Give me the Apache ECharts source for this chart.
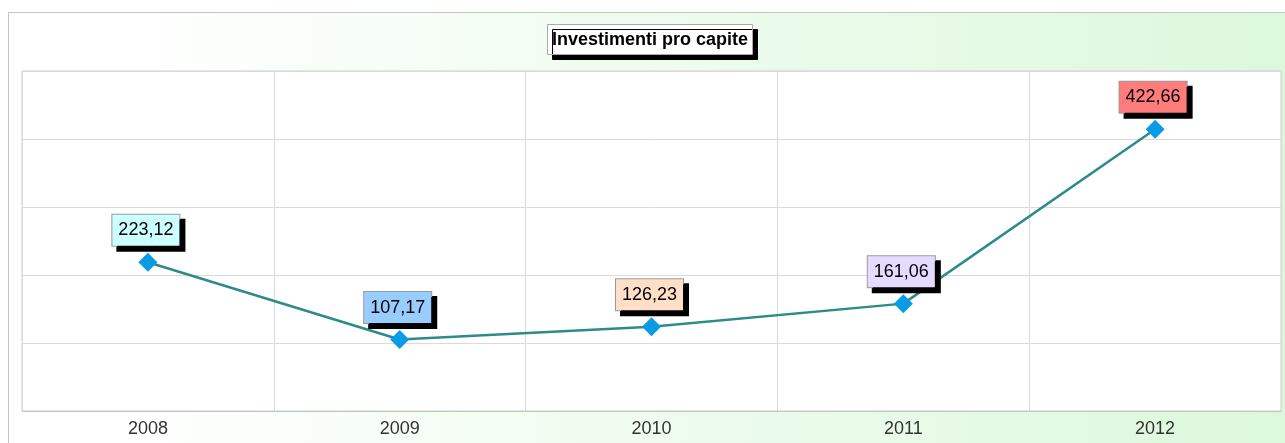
<!DOCTYPE html>
<html>
<head>
<meta charset="utf-8">
<script src="https://cdn.jsdelivr.net/npm/echarts@6/dist/echarts.min.js"></script>
<style>
  html, body { margin: 0; padding: 0; background: #fff; }
  #chart { width: 1285px; height: 443px; }
</style>
</head>
<body>
<div id="chart"></div>
<script>
// dati
var anni = ['2008', '2009', '2010', '2011', '2012'];
var investimenti = [223.12, 107.17, 126.23, 161.06, 422.66];
var coloriEtichette = ['#ccffff', '#99ccff', '#ffdfc8', '#e4dcff', '#ff7c7c'];
var titolo = 'Investimenti pro capite';

var chart = echarts.init(document.getElementById('chart'));

var punti = investimenti.map(function(v, i) {
	return { value: v, label: { backgroundColor: coloriEtichette[i] } };
});

var option = {
	backgroundColor: '#ffffff',
	animation: false,
	graphic: [{
		type: 'rect',
		z: -10,
		shape: { x: 8.5, y: 12.5, width: 1300, height: 460 },
		style: {
			fill: new echarts.graphic.LinearGradient(0, 0, 1, 0, [
				{ offset: 0, color: '#ffffff' },
				{ offset: 0.08, color: '#ffffff' },
				{ offset: 1, color: '#dbf8db' }
			]),
			stroke: '#c4c4c4',
			lineWidth: 1
		}
	}],
	title: {
		text: titolo,
		left: 547,
		top: 24,
		padding: [6, 5, 5, 5],
		backgroundColor: '#ffffff',
		borderColor: '#aaaaaa',
		borderWidth: 1,
		shadowColor: '#000000',
		shadowBlur: 0,
		shadowOffsetX: 5,
		shadowOffsetY: 5,
		textStyle: {
			fontFamily: 'Liberation Sans, Arial, sans-serif',
			fontSize: 18,
			fontWeight: 'bold',
			color: '#000000',
			lineHeight: 20
		}
	},
	grid: {
		left: 22,
		right: 4,
		top: 71,
		bottom: 32,
		show: true,
		backgroundColor: '#ffffff',
		borderColor: '#cfcfcf',
		borderWidth: 1
	},
	xAxis: {
		type: 'category',
		data: anni,
		boundaryGap: true,
		axisLine: { lineStyle: { color: '#c4c4c4', width: 1 } },
		axisTick: { length: 15, lineStyle: { color: '#d0d0d0' } },
		splitLine: { show: true, lineStyle: { color: '#dadada' } },
		axisLabel: {
			margin: 9,
			fontFamily: 'Liberation Sans, Arial, sans-serif',
			fontSize: 18,
			color: '#333333'
		}
	},
	yAxis: {
		type: 'value',
		min: 0,
		max: 510,
		interval: 102,
		axisLine: { show: false },
		axisTick: { show: false },
		axisLabel: { show: false },
		splitLine: { lineStyle: { color: '#dadada' } }
	},
	series: [{
		type: 'line',
		data: punti,
		symbol: 'diamond',
		symbolSize: 19,
		itemStyle: { color: '#0a9be6' },
		lineStyle: { color: '#2e8b8b', width: 2.5 },
		label: {
			show: true,
			position: 'top',
			distance: 7,
			offset: [-2, 0],
			fontFamily: 'Liberation Sans, Arial, sans-serif',
			fontSize: 18,
			color: '#000000',
			lineHeight: 19,
			padding: [6, 6, 6, 6],
			borderColor: '#9a9a9a',
			borderWidth: 1,
			shadowColor: '#000000',
			shadowBlur: 0,
			shadowOffsetX: 5,
			shadowOffsetY: 5,
			formatter: function(p) {
				return p.value.toFixed(2).replace('.', ',');
			}
		}
	}]
};

chart.setOption(option);
</script>
</body>
</html>
